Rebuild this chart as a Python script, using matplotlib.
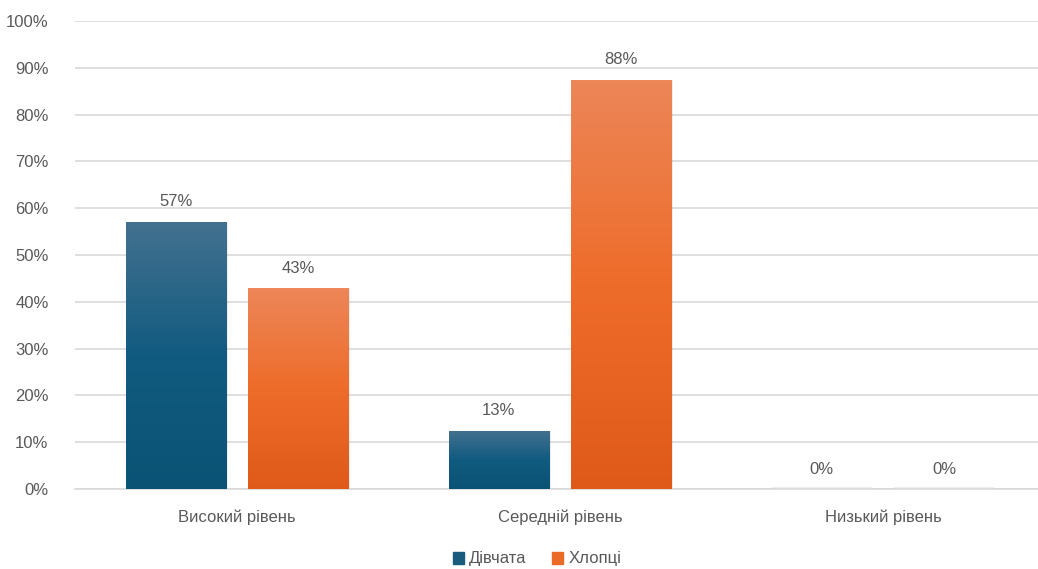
import math

import matplotlib

matplotlib.use("Agg")
import matplotlib.pyplot as plt  # noqa: E402
import numpy as np  # noqa: E402
from matplotlib.colors import LinearSegmentedColormap  # noqa: E402
from matplotlib.patches import Rectangle  # noqa: E402
from matplotlib.ticker import FuncFormatter, MultipleLocator  # noqa: E402

CATEGORIES = ["Високий рівень", "Середній рівень", "Низький рівень"]
SERIES = ["Дівчата", "Хлопці"]
GIRLS = [57.14, 12.5, 0.0]
BOYS = [42.86, 87.5, 0.0]

# (bottom, middle, top) colours for the vertical gradient of each series
GRADIENTS = [("#0b5375", "#115b80", "#44718f"), ("#df5a18", "#ee6c2a", "#ec8658")]
SOLID = ["#1a5c7e", "#ea6a28"]
TEXT = "#595959"

plt.rcParams["font.family"] = ["Liberation Sans", "DejaVu Sans"]

fig = plt.figure(figsize=(10.38, 5.69), dpi=100)
ax = fig.add_axes([75 / 1038, 1 - 489 / 569, (1038 - 75) / 1038, (489 - 21) / 569])

x = np.arange(len(CATEGORIES))
width = 0.31
offsets = [-0.19, 0.19]

grad = np.linspace(0, 1, 256).reshape(-1, 1)
for vals, off, stops in zip([GIRLS, BOYS], offsets, GRADIENTS):
    cmap = LinearSegmentedColormap.from_list("g", list(stops))
    bars = ax.bar(x + off, vals, width, color="none", zorder=3)
    for rect, v in zip(bars, vals):
        x0 = rect.get_x()
        if v > 0:
            # soft shadow on the right side
            ax.add_patch(
                Rectangle((x0 + 0.006, 0), width, v - 0.2, color="#000000",
                          alpha=0.07, zorder=2, lw=0)
            )
            im = ax.imshow(grad, extent=[x0, x0 + width, 0, v], origin="lower",
                           aspect="auto", cmap=cmap, zorder=3)
            im.set_clip_path(rect)
        else:
            ax.add_patch(
                Rectangle((x0, 0), width, 0.4, color="#ececec", zorder=2, lw=0)
            )
        label = f"{math.floor(v + 0.5)}%"
        ax.text(x0 + width / 2, v + 2.6, label, ha="center", va="bottom",
                fontsize=12, color=TEXT, zorder=4)

ax.set_xlim(-0.502, 2.48)
ax.set_ylim(0, 100)

ax.yaxis.set_major_locator(MultipleLocator(10))
ax.yaxis.set_major_formatter(FuncFormatter(lambda v, _: f"{v:.0f}%"))
ax.set_xticks(x)
ax.set_xticklabels(CATEGORIES)
ax.tick_params(axis="both", length=0, labelsize=12, colors=TEXT)
ax.tick_params(axis="y", pad=19)
ax.tick_params(axis="x", pad=15)
ax.grid(axis="y", color="#d9d9d9", lw=1.2, zorder=0)
ax.set_axisbelow(True)
for side in ["top", "right", "left"]:
    ax.spines[side].set_visible(False)
ax.spines["bottom"].set_color("#d9d9d9")
ax.spines["bottom"].set_linewidth(1.2)

handles = [Rectangle((0, 0), 1, 1, color=c) for c in SOLID]
fig.legend(handles, SERIES, loc="center", bbox_to_anchor=(537 / 1038, 1 - 559 / 569),
           ncol=2, frameon=False, fontsize=12, labelcolor=TEXT,
           handlelength=0.7, handleheight=0.7, handletextpad=0.3, columnspacing=1.5)

fig.savefig("out.png", dpi=100)
